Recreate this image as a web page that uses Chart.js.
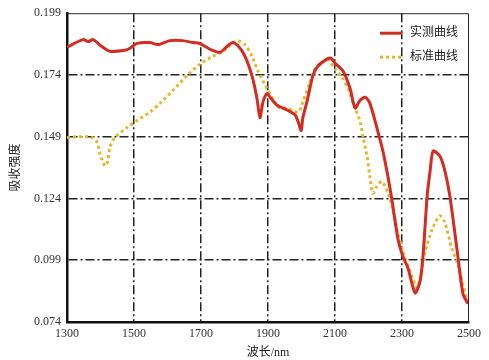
<!DOCTYPE html>
<html>
<head>
<meta charset="utf-8">
<script src="https://cdn.jsdelivr.net/npm/chart.js@4.4.0/dist/chart.umd.min.js"></script>
<style>
  html, body { margin: 0; padding: 0; background: #fff; }
  #wrap { width: 489px; height: 360px; }
</style>
</head>
<body>
<div id="wrap"><canvas id="myChart" width="489" height="360"></canvas></div>
<script>
// measured curve (red)
const redX = [1300, 1348, 1363, 1378, 1404, 1428, 1473, 1488, 1509, 1548, 1572, 1607, 1646, 1676, 1697,
  1727, 1757, 1772, 1793, 1810, 1831, 1852, 1867, 1876, 1885, 1897, 1906, 1927, 1957, 1981, 1990,
  1999, 2004, 2016, 2034, 2049, 2076, 2088, 2100, 2124, 2145, 2160, 2175, 2190, 2204, 2228, 2243,
  2258, 2270, 2288, 2303, 2318, 2339, 2354, 2363, 2375, 2384, 2393, 2413, 2428, 2443, 2464, 2482, 2497];
const redY = [0.1853, 0.1883, 0.1875, 0.1883, 0.1855, 0.1836, 0.1840, 0.1848, 0.1868, 0.1871, 0.1863, 0.1879, 0.1879, 0.1871, 0.1867,
  0.1844, 0.1832, 0.1848, 0.1871, 0.1859, 0.1816, 0.1737, 0.1646, 0.1567, 0.1630, 0.1665, 0.1650, 0.1618, 0.1598, 0.1578, 0.1551,
  0.1515, 0.1567, 0.1630, 0.1737, 0.1776, 0.1804, 0.1808, 0.1788, 0.1756, 0.1685, 0.1606, 0.1638, 0.1650, 0.1626, 0.1511, 0.1432,
  0.1329, 0.1234, 0.1076, 0.1004, 0.0957, 0.0858, 0.0905, 0.1012, 0.1249, 0.1352, 0.1432, 0.1412, 0.1352, 0.1249, 0.1036, 0.0854, 0.0814];

// standard curve (yellow dotted)
const yelX = [1300, 1339, 1375, 1390, 1399, 1413, 1422, 1428, 1443, 1479, 1512, 1548, 1578, 1616, 1658,
  1697, 1736, 1766, 1793, 1810, 1831, 1852, 1870, 1891, 1912, 1930, 1957, 1990, 2004, 2025, 2040,
  2061, 2079, 2100, 2121, 2139, 2160, 2175, 2184, 2196, 2204, 2213, 2225, 2240, 2255, 2270, 2285,
  2303, 2324, 2345, 2354, 2369, 2390, 2413, 2428, 2449, 2467, 2494];
const yelY = [0.1487, 0.1490, 0.1487, 0.1468, 0.1420, 0.1372, 0.1392, 0.1448, 0.1487, 0.1527, 0.1558, 0.1590, 0.1626, 0.1677, 0.1737,
  0.1784, 0.1816, 0.1836, 0.1867, 0.1879, 0.1863, 0.1816, 0.1756, 0.1700, 0.1650, 0.1610, 0.1606, 0.1590, 0.1630, 0.1709, 0.1764,
  0.1788, 0.1804, 0.1764, 0.1729, 0.1685, 0.1606, 0.1551, 0.1487, 0.1408, 0.1330, 0.1261, 0.1289, 0.1309, 0.1273, 0.1210, 0.1115,
  0.1024, 0.0945, 0.0878, 0.0917, 0.1024, 0.1115, 0.1170, 0.1143, 0.1036, 0.0973, 0.0826];

const xTicks = [1300, 1500, 1700, 1900, 2100, 2300, 2500];
const yTicks = [0.074, 0.099, 0.124, 0.149, 0.174, 0.199];
const seriesNames = ['实测曲线', '标准曲线'];

const serif = "'Liberation Serif', 'Noto Sans CJK SC', serif";

function pts(xs, ys) {
  return xs.map(function (x, i) { return { x: x, y: ys[i] }; });
}

// frame on top/right + legend inside plot
const framePlugin = {
  id: 'frame',
  afterDraw(chart) {
    const ctx = chart.ctx;
    const a = chart.chartArea;
    ctx.save();
    ctx.strokeStyle = '#2a2a2a';
    ctx.lineWidth = 1;
    ctx.beginPath();
    ctx.moveTo(a.left, a.top + 0.5);
    ctx.lineTo(a.right - 0.5, a.top + 0.5);
    ctx.lineTo(a.right - 0.5, a.bottom);
    ctx.stroke();

    // legend
    const ds = chart.data.datasets;
    const lx = a.right - 89, ly = a.top + 20;
    ds.forEach(function (d, i) {
      const y = ly + i * 24;
      ctx.beginPath();
      ctx.strokeStyle = d.borderColor;
      ctx.lineWidth = d.borderWidth;
      ctx.setLineDash(d.borderDash || []);
      ctx.moveTo(lx, y);
      ctx.lineTo(lx + 22, y);
      ctx.stroke();
      ctx.setLineDash([]);
      ctx.fillStyle = '#222';
      ctx.font = "12px " + serif;
      ctx.textBaseline = 'middle';
      ctx.fillText(d.label, lx + 30, y);
    });
    ctx.restore();
  }
};

const ctx = document.getElementById('myChart').getContext('2d');
const myChart = new Chart(ctx, {
  type: 'line',
  data: {
    datasets: [{
      label: seriesNames[0],
      data: pts(redX, redY),
      borderColor: '#d42b22',
      borderWidth: 3,
      pointRadius: 0,
      tension: 0.25,
      fill: false
    }, {
      label: seriesNames[1],
      data: pts(yelX, yelY),
      borderColor: '#e9b52c',
      borderWidth: 3,
      borderDash: [3, 3],
      pointRadius: 0,
      tension: 0.25,
      fill: false
    }]
  },
  options: {
    responsive: false,
    animation: false,
    layout: { padding: { top: 6, right: 20, left: 0, bottom: 0 } },
    plugins: {
      legend: { display: false },
      tooltip: { enabled: false }
    },
    scales: {
      x: {
        type: 'linear',
        min: 1300,
        max: 2500,
        afterBuildTicks: function (scale) {
          scale.ticks = xTicks.map(function (v) { return { value: v }; });
        },
        afterFit: function (scale) { scale.height = 38; },
        grid: {
          color: function (c) { return (c.index === 0 || c.index === xTicks.length - 1) ? 'rgba(0,0,0,0)' : '#222'; },
          lineWidth: 1.5,
          drawTicks: false
        },
        border: { display: true, color: '#111', width: 2.5, dash: [9, 3, 2, 3] },
        ticks: {
          color: '#333',
          font: { family: serif, size: 12 },
          padding: 5,
          maxRotation: 0,
          callback: function (v) { return String(v); }
        },
        title: {
          display: true,
          text: '波长/nm',
          color: '#222',
          font: { family: serif, size: 12 },
          padding: { top: 0, bottom: 0 }
        }
      },
      y: {
        type: 'linear',
        min: 0.074,
        max: 0.199,
        afterBuildTicks: function (scale) {
          scale.ticks = yTicks.map(function (v) { return { value: v }; });
        },
        afterFit: function (scale) { scale.width = 67; },
        grid: {
          color: function (c) { return (c.index === 0 || c.index === yTicks.length - 1) ? 'rgba(0,0,0,0)' : '#222'; },
          lineWidth: 1.5,
          drawTicks: false
        },
        border: { display: true, color: '#111', width: 2.5, dash: [9, 3, 2, 3] },
        ticks: {
          color: '#333',
          font: { family: serif, size: 12 },
          padding: 6,
          callback: function (v) { return Number(v).toFixed(3); }
        },
        title: {
          display: true,
          text: '吸收强度',
          color: '#222',
          font: { family: serif, size: 12 },
          padding: { top: 9, bottom: 0 }
        }
      }
    }
  },
  plugins: [framePlugin]
});
</script>
</body>
</html>
